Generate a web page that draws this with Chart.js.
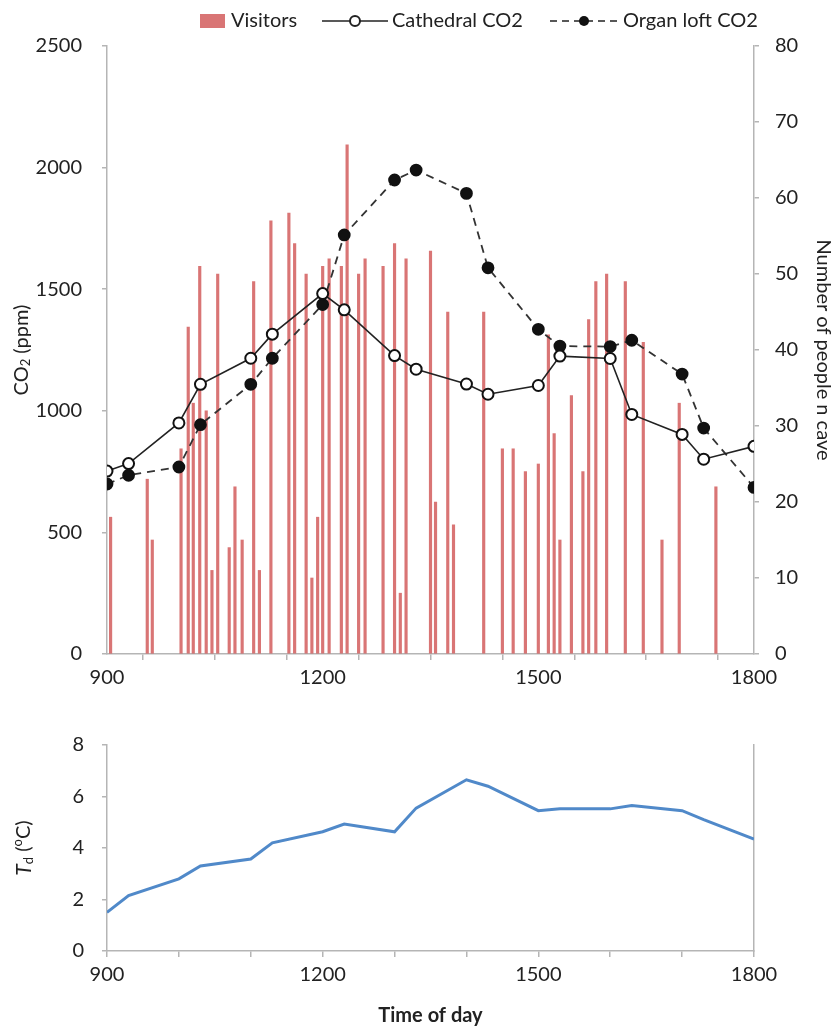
<!DOCTYPE html>
<html>
<head>
<meta charset="utf-8">
<script src="https://cdn.jsdelivr.net/npm/chart.js@4.4.1/dist/chart.umd.min.js"></script>
<style>
  body { margin: 0; background: #fff; }
  #arriba { position: absolute; left: 0; top: 0; }
  #abajo { position: absolute; left: 0; top: 700px; }
</style>
</head>
<body>
<canvas id="arriba" width="835" height="700"></canvas>
<canvas id="abajo" width="835" height="332"></canvas>
<script>
// horas de medición (HHMM)
const horas = [900, 930, 1000, 1030, 1100, 1130, 1200, 1230, 1300, 1330, 1400, 1430, 1500, 1530, 1600, 1630, 1700, 1730, 1800]
const catedralCO2 = [752, 783, 950, 1109, 1216, 1315, 1482, 1415, 1227, 1171, 1110, 1068, 1104, 1225, 1215, 985, 903, 801, 854]
const organoCO2 = [699, 735, 769, 943, 1109, 1216, 1437, 1723, 1949, 1990, 1894, 1588, 1335, 1266, 1264, 1290, 1151, 929, 685]

// visitantes dentro de la cueva
const visitasHora = [905, 956, 963, 1003, 1013, 1020, 1029, 1038, 1046, 1054, 1070, 1078, 1088, 1104, 1112, 1128,
	1153, 1161, 1177, 1185, 1193, 1200, 1209, 1226, 1234, 1250, 1259, 1284, 1300, 1308, 1316, 1350, 1357, 1374,
	1382, 1424, 1450, 1465, 1482, 1500, 1514, 1522, 1530, 1546, 1562, 1570, 1580, 1595, 1621, 1646, 1672, 1696, 1747]
const visitas = [18, 23, 15, 27, 43, 33, 51, 32, 11, 50, 14, 22, 15, 49, 11, 57,
	58, 54, 50, 10, 18, 51, 52, 51, 67, 50, 52, 51, 54, 8, 52, 53, 20, 45,
	17, 45, 27, 27, 24, 25, 42, 29, 15, 34, 24, 44, 49, 50, 49, 41, 15, 33, 22]

// temperatura Td
const tdValores = [1.5, 2.15, 2.8, 3.3, 3.57, 4.2, 4.63, 4.93, 4.63, 5.55, 6.65, 6.4, 5.45, 5.52, 5.52, 5.65, 5.45, 5.1, 4.35]

// etiquetas de ejes
const etiquetasX = [900, 1200, 1500, 1800]

const fuente = 'Lato, "Open Sans", sans-serif'
const colorTexto = '#222'
const colorEje = '#b5b5b5'
const colorBarra = 'rgba(208, 82, 82, 0.8)'

const pares = (xs, ys) => xs.map((x, i) => ({ x: x, y: ys[i] }))

// dibuja texto rotado con partes (subíndices, cursiva)
function textoRotado(ctx, cx, cy, partes) {
	ctx.save()
	ctx.translate(cx, cy)
	ctx.rotate(-Math.PI / 2)
	ctx.fillStyle = colorTexto
	ctx.textBaseline = 'middle'
	ctx.textAlign = 'left'
	let total = 0
	partes.forEach(p => { ctx.font = p.font; total += ctx.measureText(p.t).width })
	let x = -total / 2
	partes.forEach(p => {
		ctx.font = p.font
		ctx.fillText(p.t, x, p.dy || 0)
		x += ctx.measureText(p.t).width
	})
	ctx.restore()
}

const ejeX = {
	type: 'linear',
	min: 900,
	max: 1800,
	offset: false,
	grid: { display: true, drawOnChartArea: false, drawTicks: true, tickLength: 6, color: colorEje, lineWidth: 1.5 },
	border: { color: colorEje, width: 1.5 },
	ticks: {
		stepSize: 100,
		autoSkip: false,
		maxRotation: 0,
		padding: 6,
		color: colorTexto,
		font: { family: fuente, size: 20 },
		callback: v => etiquetasX.includes(v) ? String(v) : ''
	}
}

// leyenda y título izquierdo del gráfico superior
const pluginArriba = {
	id: 'pluginArriba',
	afterDraw(chart) {
		const ctx = chart.ctx
		const y = 21
		ctx.save()
		ctx.font = '20px ' + fuente
		ctx.textBaseline = 'middle'

		ctx.fillStyle = colorBarra
		ctx.fillRect(200, 14, 25, 14)
		ctx.fillStyle = colorTexto
		ctx.fillText('Visitors', 231, y)

		ctx.strokeStyle = '#222'
		ctx.lineWidth = 1.5
		ctx.beginPath(); ctx.moveTo(322, y); ctx.lineTo(388, y); ctx.stroke()
		ctx.beginPath(); ctx.arc(355, y, 5, 0, Math.PI * 2)
		ctx.fillStyle = '#fff'; ctx.fill(); ctx.lineWidth = 2; ctx.stroke()
		ctx.fillStyle = colorTexto
		ctx.fillText('Cathedral CO2', 392, y)

		ctx.lineWidth = 1.5
		ctx.setLineDash([7, 5])
		ctx.beginPath(); ctx.moveTo(550, y); ctx.lineTo(618, y); ctx.stroke()
		ctx.setLineDash([])
		ctx.beginPath(); ctx.arc(584, y, 5, 0, Math.PI * 2)
		ctx.fillStyle = '#111'; ctx.fill()
		ctx.fillStyle = colorTexto
		ctx.fillText('Organ loft CO2', 623, y)
		ctx.restore()

		textoRotado(ctx, 22, 350, [
			{ t: 'CO', font: '20px ' + fuente },
			{ t: '2', font: '13px ' + fuente, dy: 4 },
			{ t: ' (ppm)', font: '20px ' + fuente }
		])
	}
}

new Chart(document.querySelector('#arriba'), {
	type: 'bar',
	data: {
		datasets: [
			{
				type: 'line',
				label: 'Cathedral CO2',
				data: pares(horas, catedralCO2),
				yAxisID: 'y',
				borderColor: '#222',
				borderWidth: 1.6,
				pointRadius: 5.5,
				pointBackgroundColor: '#fff',
				pointBorderColor: '#111',
				pointBorderWidth: 2,
				tension: 0,
				order: 0
			},
			{
				type: 'line',
				label: 'Organ loft CO2',
				data: pares(horas, organoCO2),
				yAxisID: 'y',
				borderColor: '#333',
				borderWidth: 1.8,
				borderDash: [8, 6],
				pointRadius: 5.5,
				pointBackgroundColor: '#111',
				pointBorderColor: '#111',
				tension: 0,
				order: 1
			},
			{
				type: 'bar',
				label: 'Visitors',
				data: pares(visitasHora, visitas),
				yAxisID: 'y1',
				backgroundColor: colorBarra,
				barThickness: 2.5,
				order: 3
			}
		]
	},
	options: {
		responsive: false,
		animation: false,
		layout: { padding: { top: 46, left: 0, right: 0, bottom: 0 } },
		plugins: { legend: { display: false }, tooltip: { enabled: false } },
		scales: {
			x: Object.assign({}, ejeX, { afterFit: s => { s.height = 46 } }),
			y: {
				position: 'left',
				min: 0,
				max: 2500,
				grid: { display: true, drawOnChartArea: false, tickLength: 5, color: colorEje, lineWidth: 1.5 },
				border: { color: colorEje, width: 1.5 },
				ticks: { stepSize: 500, padding: 20, color: colorTexto, font: { family: fuente, size: 20 }, callback: v => String(v) },
				afterFit: s => { s.width = 107 }
			},
			y1: {
				position: 'right',
				min: 0,
				max: 80,
				grid: { display: true, drawOnChartArea: false, tickLength: 5, color: colorEje, lineWidth: 1.5 },
				border: { color: colorEje, width: 1.5 },
				ticks: { stepSize: 10, padding: 16, color: colorTexto, font: { family: fuente, size: 20 }, callback: v => String(v) },
				title: { display: true, text: 'Number of people n cave', color: colorTexto, font: { family: fuente, size: 20 }, padding: 0 },
				afterFit: s => { s.width = 81 }
			}
		}
	},
	plugins: [pluginArriba]
})

// título del eje de temperatura
const pluginAbajo = {
	id: 'pluginAbajo',
	afterDraw(chart) {
		textoRotado(chart.ctx, 24, (chart.chartArea.top + chart.chartArea.bottom) / 2, [
			{ t: 'T', font: 'italic 21px ' + fuente },
			{ t: 'd', font: '13px ' + fuente, dy: 5 },
			{ t: ' (', font: '20px ' + fuente },
			{ t: 'o', font: '13px ' + fuente, dy: -6 },
			{ t: 'C)', font: '20px ' + fuente }
		])
	}
}

new Chart(document.querySelector('#abajo'), {
	type: 'line',
	data: {
		datasets: [{
			label: 'Td',
			data: pares(horas, tdValores),
			borderColor: '#5089c9',
			borderWidth: 3,
			pointRadius: 0,
			tension: 0
		}]
	},
	options: {
		responsive: false,
		animation: false,
		layout: { padding: { top: 45, left: 0, right: 0, bottom: 0 } },
		plugins: { legend: { display: false }, tooltip: { enabled: false } },
		scales: {
			x: Object.assign({}, ejeX, {
				title: { display: true, text: 'Time of day', color: colorTexto, font: { family: fuente, size: 20, weight: 'bold' }, padding: { top: 8 } },
				afterFit: s => { s.height = 81 }
			}),
			y: {
				min: 0,
				max: 8,
				grid: { display: true, drawOnChartArea: false, tickLength: 5, color: colorEje, lineWidth: 1.5 },
				border: { color: colorEje, width: 1.5 },
				ticks: { stepSize: 2, padding: 18, color: colorTexto, font: { family: fuente, size: 20 } },
				afterFit: s => { s.width = 107 }
			},
			y2: {
				position: 'right',
				min: 0,
				max: 8,
				grid: { display: false },
				border: { color: colorEje, width: 1.5 },
				ticks: { display: false },
				afterFit: s => { s.width = 81 }
			}
		}
	},
	plugins: [pluginAbajo]
})
</script>
</body>
</html>
